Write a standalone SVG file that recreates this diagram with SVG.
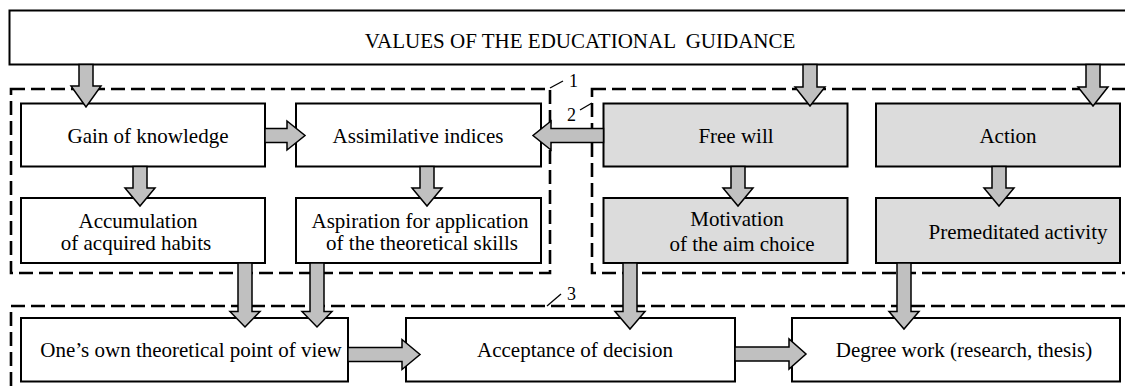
<svg xmlns="http://www.w3.org/2000/svg" width="1125" height="392" viewBox="0 0 1125 392">
<style>
  text { font-family: 'Liberation Serif', 'Times New Roman', Times, 'DejaVu Serif', serif; font-size: 21px; fill: #000; }
  .node rect { fill: #fff; stroke: #000; stroke-width: 2; }
  .node.gray rect { fill: #dcdcdc; }
  .region { fill: none; stroke: #000; stroke-width: 2.6; stroke-dasharray: 14 6; }
  .tick { stroke: #000; stroke-width: 1.3; fill: none; }
  .lbl { font-size: 18px; }
  .arrow { fill: #c0c0c0; stroke: #000; stroke-width: 1.5; stroke-linejoin: miter; }
  .c { text-anchor: middle; }
</style>
<rect width="1125" height="392" fill="#fff"/>
<g font-family="Liberation Serif, Times New Roman, serif">

<g id="regions">
  <rect class="region" x="11" y="89" width="539" height="184"/>
  <rect class="region" x="592" y="89" width="560" height="184"/>
  <rect class="region" x="11" y="306" width="1140" height="100"/>
  <line class="tick" x1="550" y1="88" x2="563" y2="81"/>
  <text class="lbl" x="569" y="87">1</text>
  <line class="tick" x1="580" y1="110" x2="592" y2="103"/>
  <text class="lbl" x="567" y="121">2</text>
  <line class="tick" x1="547" y1="306" x2="561" y2="294"/>
  <text class="lbl" x="567" y="300">3</text>
</g>

<g id="values" class="node">
  <rect x="9.5" y="10.5" width="1135" height="54"/>
  <text class="c" x="580" y="48" xml:space="preserve">VALUES OF THE EDUCATIONAL  GUIDANCE</text>
</g>

<g id="gain" class="node">
  <rect x="21" y="103.5" width="244" height="63"/>
  <text class="c" x="148" y="143">Gain of knowledge</text>
</g>
<g id="assimilative" class="node">
  <rect x="296" y="103.5" width="245" height="63"/>
  <text class="c" x="418" y="143">Assimilative indices</text>
</g>
<g id="freewill" class="node gray">
  <rect x="603.5" y="103.5" width="244" height="63"/>
  <text class="c" x="736" y="143">Free will</text>
</g>
<g id="action" class="node gray">
  <rect x="876" y="103.5" width="244" height="63"/>
  <text class="c" x="1008" y="143">Action</text>
</g>

<g id="accumulation" class="node">
  <rect x="21" y="198" width="244" height="65"/>
  <text class="c" x="138" y="228">Accumulation</text>
  <text class="c" x="136" y="250">of acquired habits</text>
</g>
<g id="aspiration" class="node">
  <rect x="296" y="198" width="245" height="65"/>
  <text class="c" x="420" y="228">Aspiration for application</text>
  <text class="c" x="422" y="250">of the theoretical skills</text>
</g>
<g id="motivation" class="node gray">
  <rect x="603.5" y="198" width="244" height="65"/>
  <text class="c" x="737" y="226">Motivation</text>
  <text class="c" x="742" y="251">of the aim choice</text>
</g>
<g id="premeditated" class="node gray">
  <rect x="876" y="198" width="244" height="65"/>
  <text class="c" x="1018" y="239">Premeditated activity</text>
</g>

<g id="ownview" class="node">
  <rect x="21" y="318" width="327" height="63.5"/>
  <text class="c" x="191" y="357">One’s own theoretical point of view</text>
</g>
<g id="acceptance" class="node">
  <rect x="406" y="318" width="329" height="63.5"/>
  <text class="c" x="575" y="357">Acceptance of decision</text>
</g>
<g id="degree" class="node">
  <rect x="792" y="318" width="328" height="63.5"/>
  <text class="c" x="964" y="357">Degree work (research, thesis)</text>
</g>

<g id="connectors">
  <polygon class="arrow" points="79,64.5 93,64.5 93,86 101,86 86,107 71,86 79,86"/>
  <polygon class="arrow" points="803,64.5 817,64.5 817,87 825,87 810,106 795,87 803,87"/>
  <polygon class="arrow" points="1086,64.5 1100,64.5 1100,87 1108,87 1093,106 1078,87 1086,87"/>
  <polygon class="arrow" points="265,128.5 287,128.5 287,121 305,135.5 287,150 287,142.5 265,142.5"/>
  <polygon class="arrow" points="603.5,128.5 551,128.5 551,121 533,135.5 551,150 551,142.5 603.5,142.5"/>
  <polygon class="arrow" points="133,166.5 147,166.5 147,188 155,188 140,206 125,188 133,188"/>
  <polygon class="arrow" points="420,166.5 434,166.5 434,188 442,188 427,206 412,188 420,188"/>
  <polygon class="arrow" points="731,166.5 745,166.5 745,188 753,188 738,206 723,188 731,188"/>
  <polygon class="arrow" points="992,166.5 1006,166.5 1006,188 1014,188 999,206 984,188 992,188"/>
  <polygon class="arrow" points="238,263 252,263 252,311.5 260,311.5 245,327 230,311.5 238,311.5"/>
  <polygon class="arrow" points="310,263 324,263 324,311.5 332,311.5 317,327 302,311.5 310,311.5"/>
  <polygon class="arrow" points="623,263 637,263 637,311.5 645,311.5 630,329 615,311.5 623,311.5"/>
  <polygon class="arrow" points="897,263 911,263 911,311.5 919,311.5 904,329 889,311.5 897,311.5"/>
  <polygon class="arrow" points="348,347.5 402,347.5 402,339.5 420,354.5 402,369.5 402,361.5 348,361.5"/>
  <polygon class="arrow" points="735,347 789,347 789,339 806,354 789,369 789,361 735,361"/>
</g>
</g>
</svg>
